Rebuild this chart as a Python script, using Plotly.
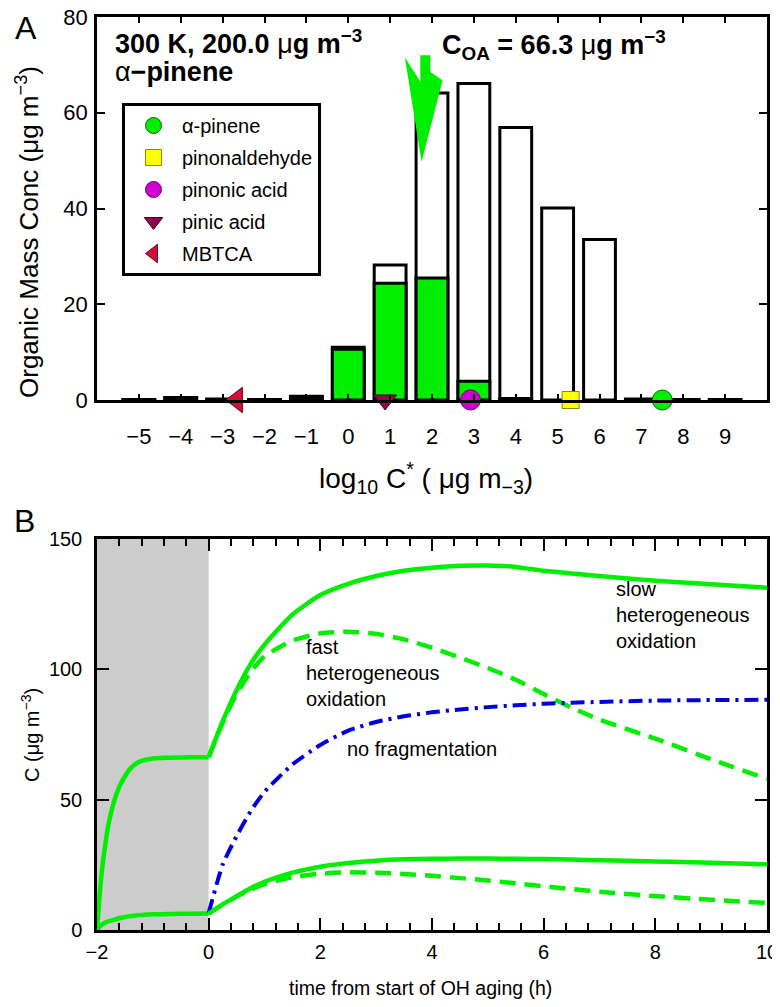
import numpy as np
import plotly.graph_objects as go

# ---------------- Panel A data ----------------
bins = [-5, -4, -3, -2, -1, 0, 1, 2, 3, 4, 5, 6, 7, 8, 9]
total_mass = [0.1, 0.5, 0.2, 0.1, 0.8, 11.0, 28.2, 64.1, 66.1, 56.9, 40.1, 33.5, 0.2, 0.1, 0.1]
pinene_mass = [0.05, 0.4, 0.1, 0.1, 0.6, 10.6, 24.4, 25.5, 3.9, 0.3, 0.0, 0.0, 0.1, 0.0, 0.0]

species = ["α-pinene", "pinonaldehyde", "pinonic acid", "pinic acid", "MBTCA"]
species_logc = [7.5, 5.31, 2.92, 0.88, -2.66]
species_symbol = ["circle", "square", "circle", "triangle-down", "triangle-left"]
species_color = ["#00ee00", "#ffff00", "#d000d0", "#8b0a4a", "#d0103a"]
species_edge = ["#0a6a0a", "#8a8a00", "#700070", "#4a0020", "#700015"]
species_size = [20, 17, 20, 20, 22]

C_OA = 66.3

# ---------------- Panel B data ----------------
t_pre = [-2.0, -1.95, -1.9, -1.85, -1.8, -1.7, -1.6, -1.5, -1.4, -1.3, -1.2, -1.0, -0.7, -0.3, 0.0]
upper_pre = [0, 14, 25, 33, 40, 49, 55, 59, 62, 63.8, 64.9, 65.8, 66.1, 66.3, 66.3]
lower_pre = [0, 1.4, 2.2, 2.9, 3.3, 3.9, 4.5, 5.0, 5.3, 5.6, 5.8, 6.0, 6.15, 6.25, 6.3]

t_post = [0.0, 0.25, 0.5, 0.75, 1.0, 1.5, 2.0, 2.5, 3.0, 3.5, 4.0, 4.5, 5.0, 5.5, 6.0, 6.5, 7.0, 8.0, 9.0, 10.0]
upper_slow = [66.3, 80, 92, 102, 109.5, 121, 128.5, 132.8, 135.8, 137.8, 139.0, 139.7, 139.8, 139.3, 137.8, 136.8, 135.8, 134.0, 132.6, 131.3]
upper_fast = [66.3, 79.5, 90.5, 99, 105, 111, 113.8, 114.4, 113.6, 111.5, 108.3, 104.5, 100.5, 96, 90.5, 85.3, 80.7, 73.4, 65.5, 58]
no_frag = [6.5, 25, 36, 45.5, 53, 63.5, 71, 76.5, 79.8, 82, 83.5, 84.6, 85.5, 86.2, 86.8, 87.2, 87.5, 88.0, 88.2, 88.3]
lower_slow = [6.3, 9.8, 13, 16, 18.5, 22, 24.3, 25.7, 26.6, 27.1, 27.3, 27.4, 27.4, 27.3, 27.2, 27.0, 26.8, 26.3, 25.8, 25.2]
lower_fast = [6.3, 9.7, 12.8, 15.5, 17.6, 20.3, 21.6, 22.1, 22.0, 21.5, 20.8, 19.9, 19.0, 17.9, 16.8, 15.7, 14.7, 13.0, 11.6, 10.4]

# ---------------- layout helpers ----------------
# the page body has an 8 px margin, so the figure is drawn 8 px smaller and positions
# are given in page (reference) pixels and converted here
OFF = 8
W, H = 780 - OFF, 1007 - OFF
ML, MT = 97 - OFF, 17 - OFF
MR = W - (767 - OFF)
MB = H - (930 - OFF)
PW, PH = W - ML - MR, H - MT - MB


def px(x):
    return (x - OFF - ML) / PW


def py(y):
    return (H - MB - (y - OFF)) / PH


FONT = "Liberation Sans, Arial, Helvetica, sans-serif"
GREEN = "#00ee00"
BLUE = "#0000dd"

fig = go.Figure()

# bars (total = white, alpha-pinene derived = green)
fig.add_trace(go.Bar(x=bins, y=[v if v > 0 else None for v in total_mass], width=0.76,
                     marker=dict(color="white", line=dict(color="black", width=3)),
                     showlegend=False, hoverinfo="skip", xaxis="x", yaxis="y"))
fig.add_trace(go.Bar(x=bins, y=[v if v > 0 else None for v in pinene_mass], width=0.76,
                     marker=dict(color=GREEN, line=dict(color="black", width=3)),
                     showlegend=False, hoverinfo="skip", xaxis="x", yaxis="y"))

# C_OA arrow (dart shape anchored at log10(C_OA))
x0 = np.log10(C_OA)
ax_dx = [-0.10, 0.14, 0.14, 0.43, -0.07, -0.47, -0.10, -0.10]
ax_y = [72.0, 72.0, 68.5, 66.8, 49.7, 71.6, 66.5, 72.0]
fig.add_trace(go.Scatter(x=[x0 + d for d in ax_dx], y=ax_y, mode="lines", fill="toself",
                         fillcolor=GREEN, line=dict(width=0, color=GREEN),
                         showlegend=False, hoverinfo="skip", xaxis="x", yaxis="y"))

# species markers
for i, name in enumerate(species):
    fig.add_trace(go.Scatter(x=[species_logc[i]], y=[0], mode="markers", name=name,
                             legendgroup=name,
                             marker=dict(symbol=species_symbol[i], size=species_size[i],
                                         color=species_color[i],
                                         line=dict(color=species_edge[i], width=1)),
                             cliponaxis=False, hoverinfo="skip", xaxis="x", yaxis="y"))

# panel B curves
line_kw = dict(shape="spline", smoothing=0.6)
fig.add_trace(go.Scatter(x=t_pre, y=upper_pre, mode="lines", line=dict(color=GREEN, width=4.5, **line_kw),
                         showlegend=False, hoverinfo="skip", xaxis="x2", yaxis="y2"))
fig.add_trace(go.Scatter(x=t_pre, y=lower_pre, mode="lines", line=dict(color=GREEN, width=4.5, **line_kw),
                         showlegend=False, hoverinfo="skip", xaxis="x2", yaxis="y2"))
fig.add_trace(go.Scatter(x=t_post, y=upper_fast, mode="lines", line=dict(color=GREEN, width=4.5, dash="16px,9px", **line_kw),
                         showlegend=False, hoverinfo="skip", xaxis="x2", yaxis="y2"))
fig.add_trace(go.Scatter(x=t_post, y=lower_fast, mode="lines", line=dict(color=GREEN, width=4.5, dash="16px,9px", **line_kw),
                         showlegend=False, hoverinfo="skip", xaxis="x2", yaxis="y2"))
fig.add_trace(go.Scatter(x=t_post, y=no_frag, mode="lines", line=dict(color=BLUE, width=4, dash="14px,6px,3px,6px", **line_kw),
                         showlegend=False, hoverinfo="skip", xaxis="x2", yaxis="y2"))
fig.add_trace(go.Scatter(x=t_post, y=upper_slow, mode="lines", line=dict(color=GREEN, width=4.5, **line_kw),
                         showlegend=False, hoverinfo="skip", xaxis="x2", yaxis="y2"))
fig.add_trace(go.Scatter(x=t_post, y=lower_slow, mode="lines", line=dict(color=GREEN, width=4.5, **line_kw),
                         showlegend=False, hoverinfo="skip", xaxis="x2", yaxis="y2"))

axis_common = dict(showline=True, linecolor="black", linewidth=2.5, mirror="allticks",
                   ticks="inside", tickcolor="black", tickwidth=2,
                   showgrid=False, zeroline=False, ticklabeloverflow="allow")
font_a = dict(family=FONT, size=22, color="black")
font_b = dict(family=FONT, size=20, color="black")

fig.update_layout(
    width=W, height=H,
    margin=dict(l=ML, r=MR, t=MT, b=MB, autoexpand=False),
    paper_bgcolor="white", plot_bgcolor="white",
    barmode="overlay",
    font=dict(family=FONT, color="black"),
    xaxis=dict(domain=[0, 1], anchor="y", range=[-6, 10], tickmode="array",
               tickvals=bins, ticktext=[str(b).replace("-", "−") for b in bins],
               ticklen=6, ticklabelstandoff=15, tickfont=font_a, **axis_common),
    yaxis=dict(domain=[py(400), 1], anchor="x", range=[0, 80], dtick=20,
               ticklen=8, ticklabelstandoff=2, tickfont=font_a, **axis_common),
    xaxis2=dict(domain=[0, 1], anchor="y2", range=[-2, 10], dtick=2,
                tickmode="array", tickvals=[-2, 0, 2, 4, 6, 8, 10],
                ticktext=["−2", "0", "2", "4", "6", "8", "10"],
                ticklen=12, ticklabelstandoff=2, tickfont=font_b,
                minor=dict(dtick=0.4, ticklen=7, ticks="inside", tickcolor="black", tickwidth=2),
                **axis_common),
    yaxis2=dict(domain=[0, py(539)], anchor="x2", range=[0, 150], dtick=50,
                ticklen=12, ticklabelstandoff=8, tickfont=font_b, **axis_common),
    legend=dict(x=px(122), y=py(103), xanchor="left", yanchor="top",
                bgcolor="white", bordercolor="black", borderwidth=3,
                font=dict(family=FONT, size=20, color="black"),
                traceorder="grouped", tracegroupgap=3, itemwidth=47, entrywidth=196),
    shapes=[dict(type="rect", xref="x2", yref="y2 domain", x0=-2, x1=0, y0=0, y1=1,
                 fillcolor="#cccccc", line=dict(width=0), layer="below")],
)

ann = []


def add_text(text, x, y, size, xanchor="left", yanchor="middle", angle=0, align="left"):
    ann.append(dict(text=text, x=px(x), y=py(y), xref="paper", yref="paper",
                    xanchor=xanchor, yanchor=yanchor, showarrow=False, textangle=angle,
                    align=align, font=dict(family=FONT, size=size, color="black")))


add_text("A", 26, 8, 32, xanchor="center", yanchor="top")
add_text("B", 24, 521, 32, xanchor="center")
add_text("<b>300 K, 200.0 </b>μ<b>g m<sup>−3</sup></b>", 113, 42, 27)
add_text("α<b>−pinene</b>", 113, 72, 27)
add_text("<b>C<sub>OA</sub> = 66.3 </b>μ<b>g m<sup>−3</sup></b>", 440, 45, 27)
add_text("Organic Mass Conc (μg m<sup>−3</sup>)", 27, 232, 26, xanchor="center", angle=-90)
add_text("log<sub>10</sub> C<sup>*</sup> ( μg m<sub>−3</sub>)", 426, 478, 28, xanchor="center")
add_text("C (μg m<sup>−3</sup>)", 30, 735, 20, xanchor="center", angle=-90)
add_text("time from start of OH aging (h)", 420, 988, 19.5, xanchor="center")
add_text("slow<br>heterogeneous<br>oxidation", 614, 576, 20, yanchor="top")
add_text("fast<br>heterogeneous<br>oxidation", 304, 634, 20, yanchor="top")
add_text("no fragmentation", 345, 749, 20)

fig.update_layout(annotations=ann)

fig.write_html("out.html")
